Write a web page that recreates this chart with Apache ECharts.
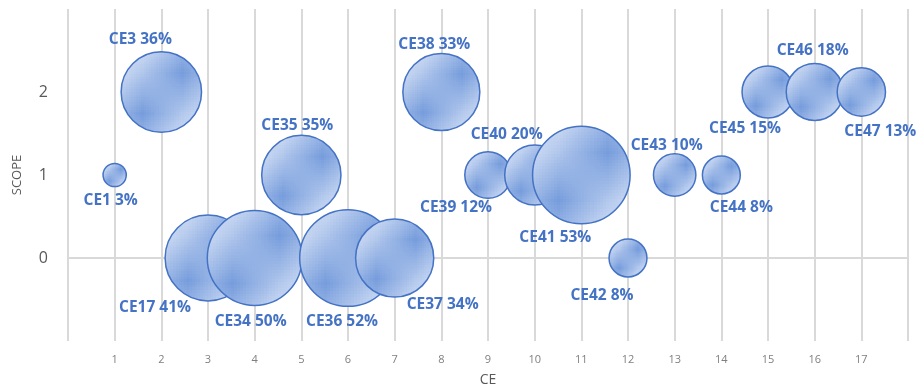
<!DOCTYPE html>
<html>
<head>
<meta charset="utf-8">
<script src="https://cdn.jsdelivr.net/npm/echarts@6/dist/echarts.min.js"></script>
<style>
    html, body { margin: 0; padding: 0; background: #ffffff; }
    #main_chart { width: 921px; height: 391px; }
</style>
</head>
<body>
<div id="main_chart"></div>
<script>
// 气泡数据
var names  = ['CE1', 'CE3', 'CE17', 'CE34', 'CE35', 'CE36', 'CE37', 'CE38', 'CE39', 'CE40', 'CE41', 'CE42', 'CE43', 'CE44', 'CE45', 'CE46', 'CE47'];
var ceVals = [1, 2, 3, 4, 5, 6, 7, 8, 9, 10, 11, 12, 13, 14, 15, 16, 17];
var scopes = [1, 2, 0, 0, 1, 0, 0, 2, 1, 1, 1, 0, 1, 1, 2, 2, 2];
var pcts   = [3, 36, 41, 50, 35, 52, 34, 33, 12, 20, 53, 8, 10, 8, 15, 18, 13];
var xTicks = [1, 2, 3, 4, 5, 6, 7, 8, 9, 10, 11, 12, 13, 14, 15, 16, 17];
var yTicks = [0, 1, 2];

// 标签相对气泡中心的偏移
var labelOffsets = [[-4, 26], [-21, -52], [-53, 50], [-4, 64], [-4, -49], [-6, 64], [48, 47], [-7, -47],
    [-32, 33], [-28, -40], [-26, 63], [-26, 38], [-8, -29], [20, 33], [-23, 37], [-2, -41], [19, 40]];

function makeHatch() {       // 斜线填充 (/)
    var n = 4;
    var c = document.createElement('canvas');
    c.width = n;
    c.height = n;
    var ctx = c.getContext('2d');
    ctx.fillStyle = '#e4ecf9';
    ctx.fillRect(0, 0, n, n);
    ctx.strokeStyle = '#779ddd';
    ctx.lineWidth = 1.3;
    ctx.beginPath();
    ctx.moveTo(-1, n + 1); ctx.lineTo(n + 1, -1);
    ctx.moveTo(-1, 1); ctx.lineTo(1, -1);
    ctx.moveTo(n - 1, n + 1); ctx.lineTo(n + 1, n - 1);
    ctx.stroke();
    return c;
}

var seriesData = [];
for (var i = 0; i < names.length; i++) {
    seriesData.push({
        name: names[i],
        value: [ceVals[i], scopes[i], pcts[i]],
        label: { offset: labelOffsets[i] }
    });
}

var option = {
    animation: false,
    grid: {
        top: 9,
        left: 68,
        right: 13,
        bottom: 50,
        outerBoundsMode: 'none'
    },
    xAxis: {
        type: 'value',
        min: 0,
        max: 18,
        interval: 1,
        name: 'CE',
        nameLocation: 'middle',
        nameGap: 32,
        nameTextStyle: { fontFamily: 'Open Sans', fontSize: 14, color: '#595959' },
        axisLine: { show: false, onZero: false },
        axisTick: { show: false },
        axisLabel: {
            margin: 13,
            fontFamily: 'Open Sans',
            fontSize: 11,
            color: '#7f7f7f',
            formatter: function (v) {
                return xTicks.indexOf(v) >= 0 ? String(v) : '';
            }
        },
        splitLine: { show: true, lineStyle: { color: '#d9d9d9', width: 2 } }
    },
    yAxis: {
        type: 'value',
        min: -1,
        max: 3,
        interval: 1,
        name: 'SCOPE',
        nameLocation: 'middle',
        nameGap: 44,
        nameTextStyle: { fontFamily: 'Open Sans', fontSize: 13, color: '#595959' },
        axisLine: { show: false },
        axisTick: { show: false },
        axisLabel: {
            margin: 20,
            fontFamily: 'Open Sans',
            fontSize: 16,
            color: '#595959',
            formatter: function (v) {
                return yTicks.indexOf(v) >= 0 ? String(v) : '';
            }
        },
        splitLine: { show: false }
    },
    series: [{
        type: 'scatter',
        data: seriesData,
        symbolSize: function (val) {
            return 13.4 * Math.sqrt(val[2]);
        },
        itemStyle: {
            color: { image: makeHatch(), repeat: 'repeat' },
            borderColor: '#4472c4',
            borderWidth: 1.5,
            opacity: 1
        },
        emphasis: { scale: false },
        label: {
            show: true,
            position: 'inside',
            fontFamily: 'Open Sans',
            fontWeight: 'bold',
            fontSize: 15.5,
            color: '#4472c4',
            formatter: function (p) {
                return p.name + ' ' + p.value[2] + '%';
            }
        },
        markLine: {
            silent: true,
            symbol: 'none',
            label: { show: false },
            lineStyle: { color: '#d9d9d9', width: 2, type: 'solid' },
            data: [{ yAxis: 0 }],
            z: 1
        }
    }]
};
echarts.init(document.getElementById('main_chart')).setOption(option);
</script>
</body>
</html>
